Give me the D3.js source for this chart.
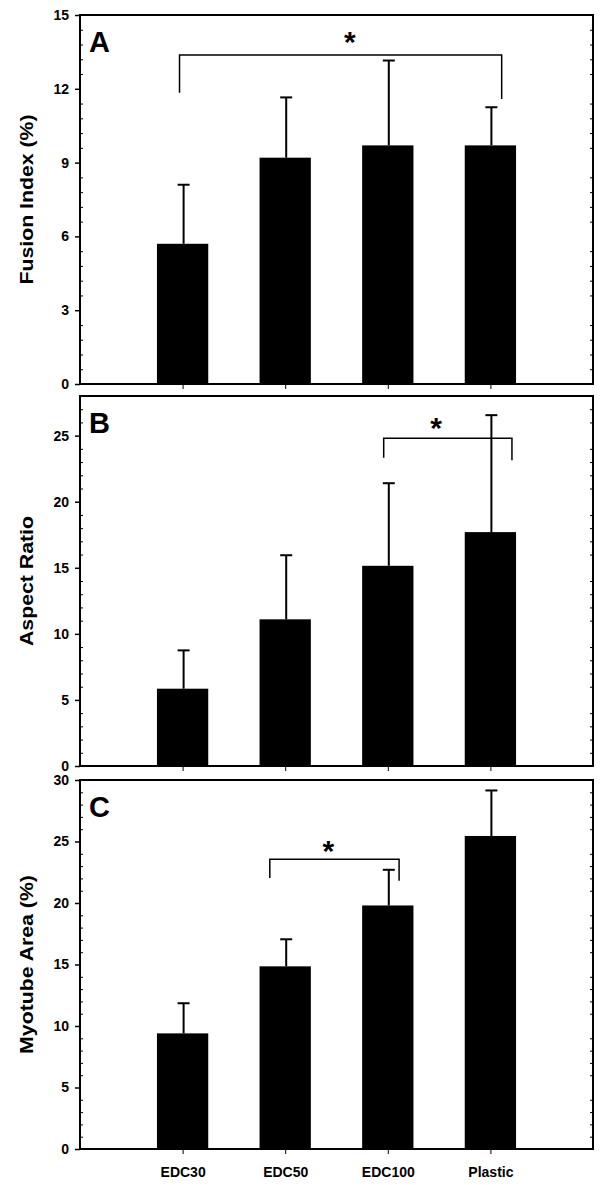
<!DOCTYPE html>
<html><head><meta charset="utf-8">
<script src="https://cdn.jsdelivr.net/npm/d3@7"></script>
<style>
body{margin:0;background:#fff}
text{font-family:"Liberation Sans",Arial,Helvetica,sans-serif;font-weight:bold;fill:#000}
</style>
</head><body>
<svg id="chart" width="604" height="1185"></svg>
<script>
// ---------- data ----------
const categories = ["EDC30", "EDC50", "EDC100", "Plastic"];

const fusionIndex    = [5.7, 9.2, 9.7, 9.7];
const fusionIndexErr = [2.4, 2.45, 3.45, 1.55];

const aspectRatio    = [5.85, 11.1, 15.15, 17.7];
const aspectRatioErr = [2.9, 4.85, 6.25, 8.85];

const myotubeArea    = [9.4, 14.85, 19.8, 25.45];
const myotubeAreaErr = [2.45, 2.2, 2.9, 3.7];

const fusionTicks = [0, 3, 6, 9, 12, 15];
const aspectTicks = [0, 5, 10, 15, 20, 25];
const areaTicks   = [0, 5, 10, 15, 20, 25, 30];

// significance brackets (x in category-slot units, y in data units)
const sigA = {x0: 0.97, x1: 4.11, level: 13.37, leg0: 11.84, leg1: 11.59, starX: 2.63, starY: 14.2};
const sigB = {x0: 2.96, x1: 4.21, level: 24.8, leg0: 23.33, leg1: 23.14, starX: 3.47, starY: 26.1};
const sigC = {x0: 1.85, x1: 3.11, level: 23.56, leg0: 22.03, leg1: 21.8, starX: 2.42, starY: 24.8};

// ---------- layout ----------
const svg = d3.select("#chart");
const left = 80, right = 593;
const panels = [
  {top: 15,  bottom: 384,  max: 15, ticks: fusionTicks, minorStep: 0.6, values: fusionIndex, errs: fusionIndexErr,
   title: "Fusion Index (%)", letter: "A", sig: sigA, showLabels: false},
  {top: 396, bottom: 766,  max: 28, ticks: aspectTicks, minorStep: 1, values: aspectRatio, errs: aspectRatioErr,
   title: "Aspect Ratio", letter: "B", sig: sigB, showLabels: false},
  {top: 780, bottom: 1149, max: 30, ticks: areaTicks, minorStep: 1, values: myotubeArea, errs: myotubeAreaErr,
   title: "Myotube Area (%)", letter: "C", sig: sigC, showLabels: true}
];

const xSlot = d3.scaleLinear().domain([0, categories.length + 1]).range([left, right]);
const xCat = d3.scalePoint().domain(categories).range([left, right]).padding(1);
const step = xCat.step();
const barW = step * 0.5;

panels.forEach(p => {
  const y = d3.scaleLinear().domain([0, p.max]).range([p.bottom, p.top]);
  const g = svg.append("g");

  const minors = d3.range(0, p.max + 1e-6, p.minorStep)
    .map(v => +v.toFixed(3))
    .filter(v => !p.ticks.some(t => Math.abs(t - v) < 1e-6) && v > 0 && v < p.max);

  // bars
  g.selectAll("rect.bar").data(categories).join("rect")
    .attr("x", d => xCat(d) - barW / 2)
    .attr("y", (d, i) => y(p.values[i]))
    .attr("width", barW)
    .attr("height", (d, i) => p.bottom - y(p.values[i]))
    .attr("fill", "#000");

  // error bars
  g.selectAll("line.err").data(categories).join("line")
    .attr("x1", d => xCat(d) + 1).attr("x2", d => xCat(d) + 1)
    .attr("y1", (d, i) => y(p.values[i]))
    .attr("y2", (d, i) => y(p.values[i] + p.errs[i]))
    .attr("stroke", "#000").attr("stroke-width", 2);
  g.selectAll("line.cap").data(categories).join("line")
    .attr("x1", d => xCat(d) + 1 - 6).attr("x2", d => xCat(d) + 1 + 6)
    .attr("y1", (d, i) => y(p.values[i] + p.errs[i]))
    .attr("y2", (d, i) => y(p.values[i] + p.errs[i]))
    .attr("stroke", "#000").attr("stroke-width", 2);

  // left major axis
  const ax = g.append("g").attr("transform", `translate(${left},0)`)
    .call(d3.axisLeft(y).tickValues(p.ticks).tickSize(5).tickPadding(6).tickFormat(d3.format("d")));
  ax.select(".domain").remove();
  ax.selectAll("line").attr("stroke", "#000").attr("stroke-width", 1.5);
  ax.selectAll("text").attr("font-size", 14).style("font-family", "'Liberation Sans',Arial,sans-serif")
    .style("font-weight", "bold").attr("fill", "#000");

  // left minor ticks (inside)
  const axm = g.append("g").attr("transform", `translate(${left},0)`)
    .call(d3.axisLeft(y).tickValues(minors).tickSize(-3).tickFormat(""));
  axm.select(".domain").remove();
  axm.selectAll("line").attr("stroke", "#000").attr("stroke-width", 1);

  // right minor ticks (inside)
  const axr = g.append("g").attr("transform", `translate(${right},0)`)
    .call(d3.axisRight(y).tickValues(minors).tickSize(-3).tickFormat(""));
  axr.select(".domain").remove();
  axr.selectAll("line").attr("stroke", "#000").attr("stroke-width", 1);

  // bottom category ticks
  const axb = g.append("g").attr("transform", `translate(0,${p.bottom})`)
    .call(d3.axisBottom(xCat).tickSize(5).tickPadding(13).tickFormat(p.showLabels ? (d => d) : ""));
  axb.select(".domain").remove();
  axb.selectAll("line").attr("stroke", "#000").attr("stroke-width", 1);
  axb.selectAll("text").attr("font-size", 14).style("font-family", "'Liberation Sans',Arial,sans-serif")
    .style("font-weight", "bold").attr("fill", "#000");

  // frame
  g.append("rect").attr("x", left).attr("y", p.top)
    .attr("width", right - left).attr("height", p.bottom - p.top)
    .attr("fill", "none").attr("stroke", "#000").attr("stroke-width", 2);

  // panel letter
  g.append("text").attr("x", 89).attr("y", p.top + 37)
    .attr("font-size", 29).text(p.letter);

  // y title
  const cy = (p.top + p.bottom) / 2;
  g.append("text")
    .attr("transform", `translate(33,${cy}) rotate(-90) scale(1.15,1)`)
    .attr("text-anchor", "middle").attr("font-size", 18.5).text(p.title);

  // significance bracket
  const s = p.sig;
  const bx0 = xSlot(s.x0), bx1 = xSlot(s.x1);
  g.append("path")
    .attr("d", `M${bx0},${y(s.leg0)}V${y(s.level)}H${bx1}V${y(s.leg1)}`)
    .attr("fill", "none").attr("stroke", "#000").attr("stroke-width", 1.5);
  g.append("text").attr("x", xSlot(s.starX)).attr("y", y(s.starY) + 17)
    .attr("text-anchor", "middle").attr("font-size", 30).text("*");
});
</script>
</body></html>
